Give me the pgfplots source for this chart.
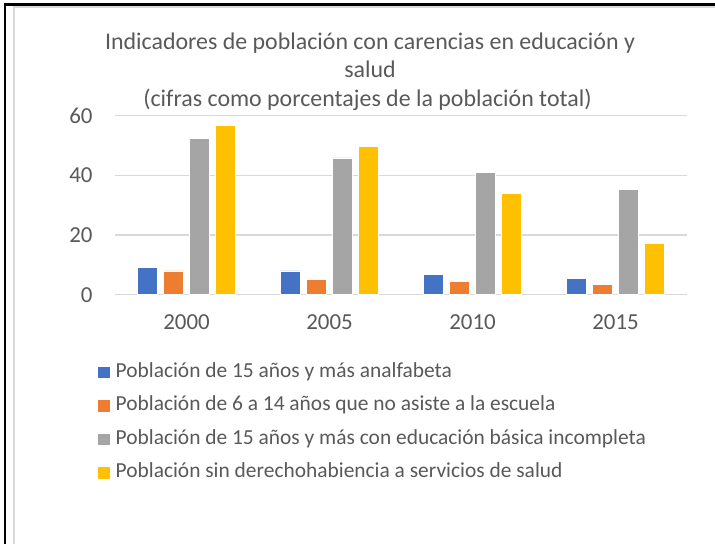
\documentclass[border=0pt]{standalone}
\usepackage{pgfplots}
\pgfplotsset{compat=1.18}
\usepackage{fontspec}
\setmainfont{Carlito}
\definecolor{txt}{HTML}{595959}
\definecolor{grd}{HTML}{D9D9D9}
\definecolor{c1}{HTML}{4472C4}
\definecolor{c2}{HTML}{ED7D31}
\definecolor{c3}{HTML}{A5A5A5}
\definecolor{c4}{HTML}{FFC000}
\begin{document}
\begin{tikzpicture}[x=1bp,y=1bp]
\useasboundingbox (0,0) rectangle (715,544);
\fill[white] (0,0) rectangle (715,544);
\draw[grd, line width=2.4bp] (14,0) -- (14,537.3) -- (715,537.3);
\draw[black, line width=2.4bp] (5.2,0) -- (5.2,539.5) -- (715,539.5);
\begin{scope}[text=txt, font=\fontsize{24}{28}\selectfont]
\node[anchor=base] at (370,494) {Indicadores de población con carencias en educación y};
\node[anchor=base] at (370,466.5) {salud};
\node[anchor=base] at (367.5,437) {(cifras como porcentajes de la población total)};
\end{scope}
\begin{axis}[
  at={(115bp,249.3bp)}, anchor=south west,
  scale only axis, width=572bp, height=179bp,
  xmin=-0.5, xmax=3.5, ymin=0, ymax=60,
  ytick={0,20,40,60}, xtick={0,1,2,3},
  xticklabels={2000,2005,2010,2015},
  ybar=6bp, bar width=20bp,
  axis line style={draw=none},
  tick style={draw=none},
  ymajorgrids, grid style={grd, line width=1.3bp},
  ticklabel style={text=txt, font=\fontsize{23}{27}\selectfont},
  /pgf/number format/assume math mode=true,
  yticklabel style={xshift=-19bp},
  xticklabel style={yshift=-12bp},
  legend style={at={(-0.0315,-0.388)}, anchor=north west, draw=none, fill=none,
    inner sep=0pt, column sep=5bp, row sep=17.5bp,
    font=\fontsize{21.5}{25}\selectfont, text=txt,
    nodes={inner sep=0pt, text height=13bp, text depth=3bp}},
  legend cell align=left,
  legend image code/.code={\fill[#1] (0bp,-6.3bp) rectangle (13bp,6.3bp);},
]
\addplot[fill=c1, draw=white, line width=0.5bp] coordinates {(0,9.1) (1,8.0) (2,6.7) (3,5.4)};
\addplot[fill=c2, draw=white, line width=0.5bp] coordinates {(0,8.0) (1,5.1) (2,4.5) (3,3.4)};
\addplot[fill=c3, draw=white, line width=0.5bp] coordinates {(0,52.3) (1,45.9) (2,40.9) (3,35.2)};
\addplot[fill=c4, draw=white, line width=0.5bp] coordinates {(0,56.8) (1,49.6) (2,33.9) (3,17.1)};
\legend{Población de 15 años y más analfabeta,
Población de 6 a 14 años que no asiste a la escuela,
Población de 15 años y más con educación básica incompleta,
Población sin derechohabiencia a servicios de salud}
\end{axis}
\end{tikzpicture}
\end{document}
